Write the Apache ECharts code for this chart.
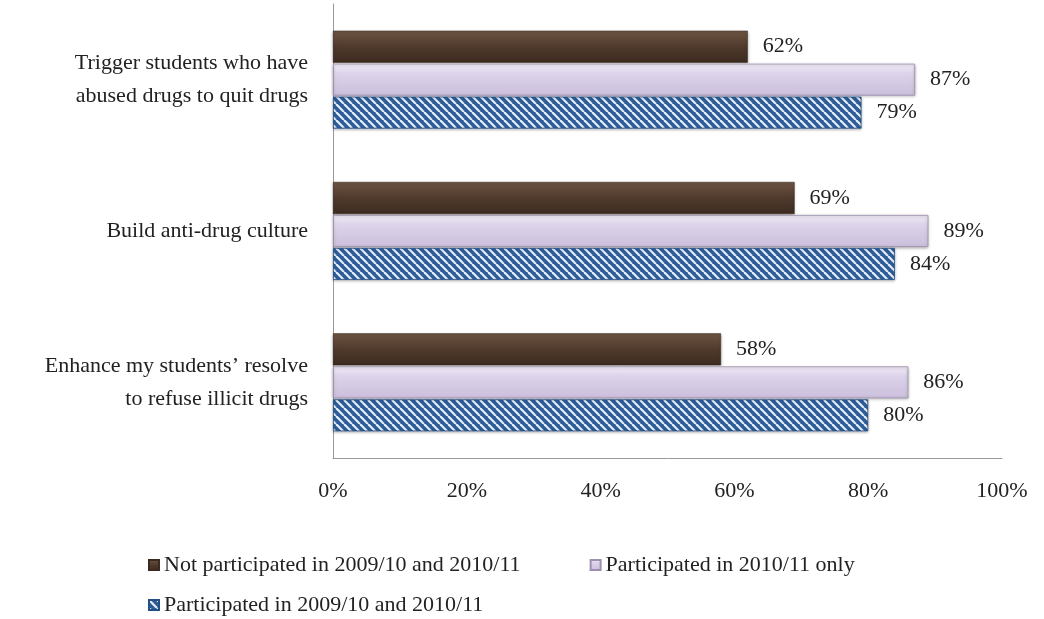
<!DOCTYPE html>
<html><head><meta charset="utf-8">
<script src="https://cdn.jsdelivr.net/npm/echarts@6/dist/echarts.min.js"></script>
<style>html,body{margin:0;padding:0;background:#fff}#c{width:1044px;height:619px}</style>
</head><body><div id="c"></div>
<script>
const categories = ["Trigger students who have\nabused drugs to quit drugs", "Build anti-drug culture", "Enhance my students\u2019 resolve\nto refuse illicit drugs"];
const seriesNames = ["Not participated in 2009/10 and 2010/11", "Participated in 2010/11 only", "Participated in 2009/10 and 2010/11"];
const notParticipated = [62, 69, 58];
const only201011 = [87, 89, 86];
const both = [79, 84, 80];
const xTicks = [0, 20, 40, 60, 80, 100];

function stripe() {
  const c = document.createElement('canvas');
  c.width = 8; c.height = 8;
  const g = c.getContext('2d');
  g.fillStyle = '#2c5d9a'; g.fillRect(0, 0, 8, 8);
  g.strokeStyle = '#e8eef8'; g.lineWidth = 2.2;
  for (let k = -16; k <= 16; k += 8) {
    g.beginPath(); g.moveTo(k, 0); g.lineTo(k + 8, 8); g.stroke();
  }
  return c;
}
const font = '"Liberation Serif", "Times New Roman", serif';
const chart = echarts.init(document.getElementById('c'));
const lbl = { show: true, position: 'right', distance: 15, formatter: '{c}%', fontFamily: font, fontSize: 22, color: '#222' };
chart.setOption({
  animation: false,
  textStyle: { fontFamily: font },
  grid: { left: 333, right: 42, top: 4, bottom: 161 },
  xAxis: {
    type: 'value', min: 0, max: 100, interval: 20,
    axisLabel: { formatter: v => xTicks.includes(v) ? v + '%' : '', fontFamily: font, fontSize: 22, color: '#222', margin: 22 },
    axisLine: { show: true, lineStyle: { color: '#999' } },
    axisTick: { show: false }, splitLine: { show: false }
  },
  yAxis: {
    type: 'category', data: categories, inverse: true,
    axisLabel: { fontFamily: font, fontSize: 22, color: '#222', margin: 25, lineHeight: 33, align: 'right', padding: [12, 0, 0, 0] },
    axisLine: { show: true, lineStyle: { color: '#999' } },
    axisTick: { show: false }
  },
  legend: [
    { data: [seriesNames[0], seriesNames[1]], left: 143, top: 549, itemWidth: 10, itemHeight: 10, itemGap: 69, icon: 'rect',
      textStyle: { fontFamily: font, fontSize: 22, color: '#222' } },
    { data: [seriesNames[2]], left: 143, top: 589, itemWidth: 10, itemHeight: 10, icon: 'rect',
      textStyle: { fontFamily: font, fontSize: 22, color: '#222' } }
  ],
  series: [
    { name: seriesNames[0], type: 'bar', data: notParticipated, barWidth: 32, barGap: '3%', barCategoryGap: '34%',
      itemStyle: { color: new echarts.graphic.LinearGradient(0, 0, 0, 1, [
        { offset: 0, color: '#6e5544' }, { offset: 0.5, color: '#4f3a2c' }, { offset: 1, color: '#3d2b20' }]),
        borderColor: '#3a2a1f', borderWidth: 0.5, shadowBlur: 3, shadowColor: 'rgba(0,0,0,0.3)', shadowOffsetY: 1 },
      label: lbl },
    { name: seriesNames[1], type: 'bar', data: only201011, barWidth: 32,
      itemStyle: { color: new echarts.graphic.LinearGradient(0, 0, 0, 1, [
        { offset: 0, color: '#f2edf8' }, { offset: 0.3, color: '#ddd3ea' }, { offset: 1, color: '#cbbfdc' }]),
        borderColor: '#9d8fae', borderWidth: 0.8, shadowBlur: 3, shadowColor: 'rgba(0,0,0,0.3)', shadowOffsetY: 1 },
      label: lbl },
    { name: seriesNames[2], type: 'bar', data: both, barWidth: 32,
      itemStyle: { color: { image: stripe(), repeat: 'repeat' }, borderColor: '#244f85', borderWidth: 0.8,
        shadowBlur: 3, shadowColor: 'rgba(0,0,0,0.3)', shadowOffsetY: 1 },
      label: lbl }
  ]
});
</script></body></html>
